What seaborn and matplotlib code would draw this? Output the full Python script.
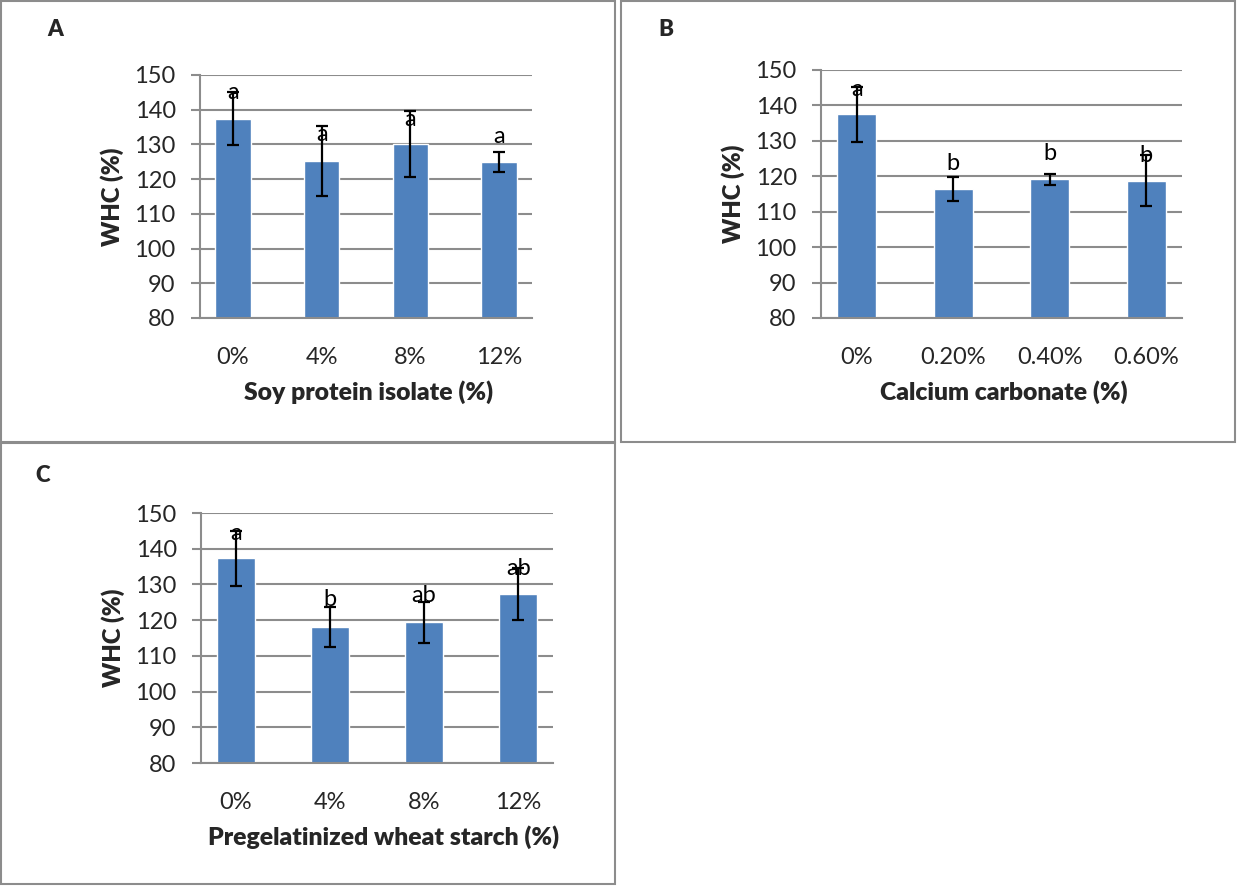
import numpy as np
import pandas as pd
import matplotlib
matplotlib.use("Agg")
import matplotlib.pyplot as plt
from matplotlib.patches import Rectangle
import seaborn as sns

# A: soy protein isolate
spi_levels = ["0%", "4%", "8%", "12%"]
spi_whc = [137.4, 125.2, 130.0, 125.0]
spi_sd = [7.7, 10.1, 9.5, 2.9]
spi_groups = ["a", "a", "a", "a"]

# B: calcium carbonate
cc_levels = ["0%", "0.20%", "0.40%", "0.60%"]
cc_whc = [137.5, 116.4, 119.1, 118.8]
cc_sd = [7.8, 3.3, 1.6, 7.1]
cc_groups = ["a", "b", "b", "b"]

# C: pregelatinized wheat starch
pws_levels = ["0%", "4%", "8%", "12%"]
pws_whc = [137.3, 118.1, 119.4, 127.3]
pws_sd = [7.7, 5.5, 5.8, 7.3]
pws_groups = ["a", "b", "ab", "ab"]

# heights (WHC units) where the significance letters sit
spi_letter_at = [144.9, 132.9, 137.1, 132.3]
cc_letter_at = [144.6, 123.5, 126.3, 125.8]
pws_letter_at = [144.3, 125.7, 126.8, 134.6]

sns.set_theme(style="white")
plt.rcParams["font.family"] = ["Lato", "DejaVu Sans"]

W, H = 1238, 888
BAR = "#4F81BD"
GRID = "#8C8C8C"
FRAME = "#8C8C8C"
HEAVY = 800

fig = plt.figure(figsize=(W / 100, H / 100), dpi=100)


def px_axes(left, top, right, bottom):
    return fig.add_axes([left / W, 1 - bottom / H, (right - left) / W, (bottom - top) / H])


def frame(left, top, right, bottom):
    fig.add_artist(Rectangle((left / W, 1 - bottom / H), (right - left) / W, (bottom - top) / H,
                             transform=fig.transFigure, fill=False, edgecolor=FRAME, lw=1.5))


def panel(box, tag, tag_xy, levels, whc, sd, groups, letter_at, xlabel, xlabel_shift=0):
    left, top, right, bottom = box
    ax = px_axes(*box)
    df = pd.DataFrame({"level": levels, "whc": whc})
    sns.barplot(data=df, x="level", y="whc", color=BAR, saturation=1, width=0.4,
                errorbar=None, ax=ax, zorder=2)
    ax.errorbar(np.arange(len(levels)), whc, yerr=sd, fmt="none", ecolor="black",
                elinewidth=1.6, capsize=4.2, capthick=1.6, zorder=4)
    for i, (g, y) in enumerate(zip(groups, letter_at)):
        ax.text(i, y, g, ha="center", va="center", fontsize=17, color="black", zorder=3)

    ax.set_ylim(80, 150)
    ax.set_yticks(np.arange(80, 151, 10))
    ax.yaxis.grid(True, color=GRID, lw=1.5)
    ax.xaxis.grid(False)
    ax.set_axisbelow(True)
    for s in ["top", "right"]:
        ax.spines[s].set_visible(False)
    for s in ["left", "bottom"]:
        ax.spines[s].set_color(GRID)
        ax.spines[s].set_linewidth(1.5)
    ax.tick_params(axis="y", direction="out", length=6.5, width=1.5, color=GRID,
                   labelsize=17, pad=11, left=True)
    ax.tick_params(axis="x", length=0, labelsize=17, pad=21)

    w_px = right - left
    h_px = bottom - top
    ax.set_ylabel("WHC (%)", fontsize=17.2, fontweight=HEAVY)
    ax.yaxis.set_label_coords(-76 / w_px, 0.5)
    ax.set_xlabel(xlabel, fontsize=17.8, fontweight=HEAVY)
    ax.xaxis.set_label_coords(0.5 + xlabel_shift / w_px, -62 / h_px)

    fig.text(tag_xy[0] / W, 1 - tag_xy[1] / H, tag, ha="center", va="center",
             fontsize=16, fontweight=HEAVY)
    return ax


frame(1, 1, 615, 442)
frame(621, 1, 1235, 442)
frame(1, 443, 615, 884)

panel((200, 75, 532, 318), "A", (55, 30), spi_levels, spi_whc, spi_sd, spi_groups,
      spi_letter_at, "Soy protein isolate (%)", 3)
panel((821, 70, 1182, 318), "B", (666, 29), cc_levels, cc_whc, cc_sd, cc_groups,
      cc_letter_at, "Calcium carbonate (%)", 2)
panel((201, 513, 553, 763), "C", (43, 475), pws_levels, pws_whc, pws_sd, pws_groups,
      pws_letter_at, "Pregelatinized wheat starch (%)", 7)

fig.savefig("out.png", dpi=100, facecolor="white")
